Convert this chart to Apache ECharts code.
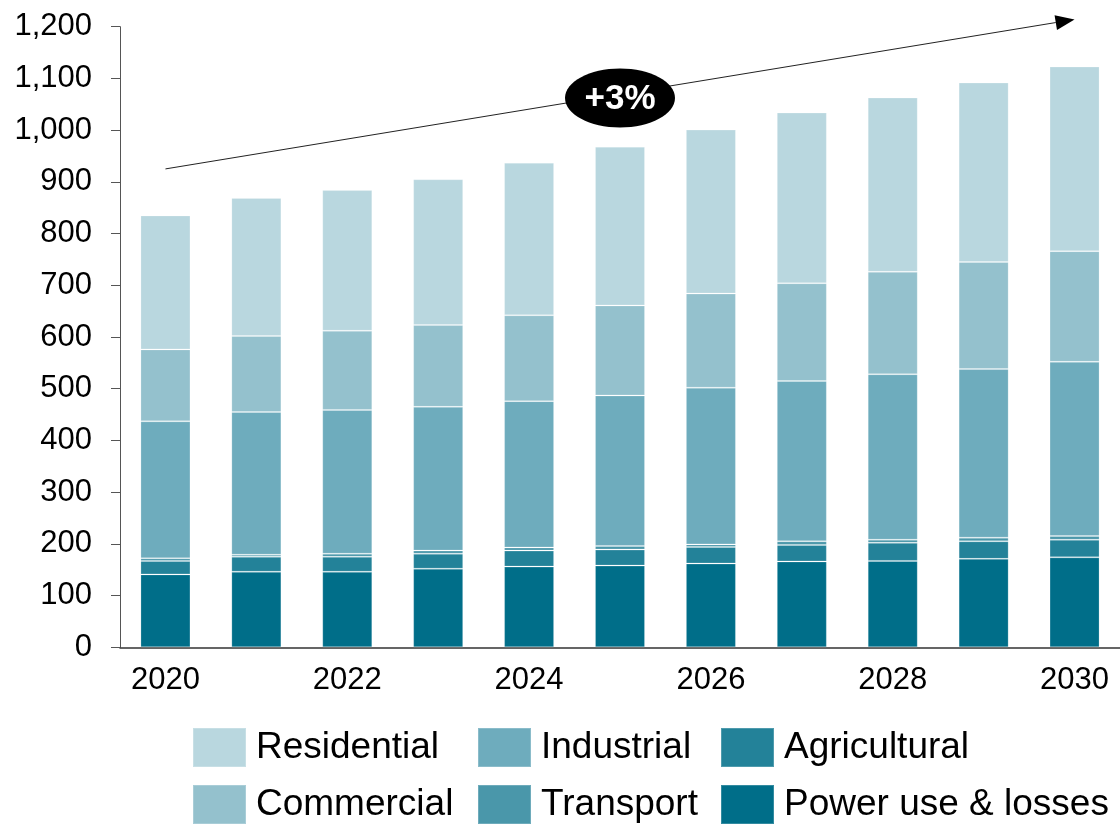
<!DOCTYPE html>
<html>
<head>
<meta charset="utf-8">
<title>Electricity demand by sector, 2020–2030</title>
<script src="https://cdn.jsdelivr.net/npm/echarts@6/dist/echarts.min.js"></script>
<style>
  html, body { margin: 0; padding: 0; background: #ffffff; }
  #chart { width: 1120px; height: 825px; }
</style>
</head>
<body>
<div id="chart"></div>
<script>
// Categories (years)
const years = ['2020', '2021', '2022', '2023', '2024', '2025', '2026', '2027', '2028', '2029', '2030'];

// Demand by sector, stacked bottom to top
const powerUseLosses = [141, 146, 146, 152, 156, 158, 162, 166, 167, 171, 174];
const agricultural   = [26, 29, 29, 29, 31, 31, 32, 32, 35, 34, 34];
const transport      = [5, 4, 6, 6, 6, 7, 5, 7, 6, 7, 7];
const industrial     = [265, 276, 278, 278, 283, 291, 303, 310, 320, 326, 337];
const commercial     = [139, 147, 153, 158, 166, 174, 182, 189, 198, 207, 214];
const residential    = [259, 267, 272, 282, 295, 307, 317, 330, 337, 347, 357];

// Value axis ticks
const yTicks = [0, 100, 200, 300, 400, 500, 600, 700, 800, 900, 1000, 1100, 1200];

// Growth trend annotation (category, value)
const trendStart = ['2020', 925];
const trendEnd = ['2030', 1214];
const trendLabelAt = ['2025', 1062];
const trendLabel = '+3%';

const FONT = '"Liberation Sans", Arial, Helvetica, sans-serif';

const sectors = [
  { name: 'Power use & losses', data: powerUseLosses, color: '#006e89' },
  { name: 'Agricultural',       data: agricultural,   color: '#238299' },
  { name: 'Transport',          data: transport,      color: '#4a97aa' },
  { name: 'Industrial',         data: industrial,     color: '#6eacbd' },
  { name: 'Commercial',         data: commercial,     color: '#94c1cd' },
  { name: 'Residential',        data: residential,    color: '#b9d7df' }
];

const chart = echarts.init(document.getElementById('chart'), null, { renderer: 'canvas' });

// One legend per column, two entries stacked in each
function legendColumn(left, names) {
  return {
    orient: 'vertical',
    left: left,
    top: 727,
    width: 300,
    height: 140,
    padding: 0,
    itemWidth: 53,
    itemHeight: 39,
    itemGap: 16,
    icon: 'rect',
    selectedMode: false,
    data: names,
    textStyle: {
      fontFamily: FONT,
      fontSize: 37,
      lineHeight: 39,
      color: '#000000',
      padding: [0, 0, 0, 5]
    }
  };
}

const option = {
  animation: false,
  backgroundColor: '#ffffff',
  grid: { left: 120, right: -4, top: 26.7, bottom: 177.7, containLabel: false },
  legend: [
    legendColumn(192, ['Residential', 'Commercial']),
    legendColumn(477, ['Industrial', 'Transport']),
    legendColumn(720, ['Agricultural', 'Power use & losses'])
  ],
  xAxis: {
    type: 'category',
    data: years,
    boundaryGap: true,
    axisLine: { show: true, lineStyle: { color: '#333333', width: 1.5 } },
    axisTick: { show: false },
    axisLabel: {
      interval: 1,
      margin: 18,
      fontFamily: FONT,
      fontSize: 31,
      color: '#000000'
    },
    splitLine: { show: false }
  },
  yAxis: {
    type: 'value',
    min: yTicks[0],
    max: yTicks[yTicks.length - 1],
    interval: yTicks[1] - yTicks[0],
    axisLine: { show: true, lineStyle: { color: '#555555', width: 1 } },
    axisTick: { show: true, inside: false, length: 9, lineStyle: { color: '#555555' } },
    axisLabel: {
      margin: 28,
      fontFamily: FONT,
      fontSize: 31,
      color: '#000000',
      formatter: v => v.toLocaleString('en-US')
    },
    splitLine: { show: false }
  },
  series: sectors.map(s => ({
    name: s.name,
    type: 'bar',
    stack: 'demand',
    barWidth: 50,
    data: s.data,
    itemStyle: {
      color: s.color,
      borderColor: 'rgba(255,255,255,0.2)',
      borderWidth: 1
    },
    emphasis: { disabled: true }
  }))
};

chart.setOption(option);

// Trend arrow and growth badge placed in data coordinates
function drawTrend() {
  const p0 = chart.convertToPixel({ gridIndex: 0 }, trendStart);
  const p1 = chart.convertToPixel({ gridIndex: 0 }, trendEnd);
  const pc = chart.convertToPixel({ gridIndex: 0 }, trendLabelAt);
  const dx = p1[0] - p0[0];
  const dy = p1[1] - p0[1];
  const len = Math.sqrt(dx * dx + dy * dy);
  const ux = dx / len, uy = dy / len;
  const headLen = 19, headHalf = 7.5;
  const bx = p1[0] - ux * headLen, by = p1[1] - uy * headLen;
  const nx = -uy, ny = ux;

  chart.setOption({
    graphic: [
      {
        type: 'line',
        silent: true,
        shape: { x1: p0[0], y1: p0[1], x2: bx, y2: by },
        style: { stroke: '#222222', lineWidth: 1 },
        z: 10
      },
      {
        type: 'polygon',
        silent: true,
        shape: {
          points: [
            [p1[0], p1[1]],
            [bx + nx * headHalf, by + ny * headHalf],
            [bx - nx * headHalf, by - ny * headHalf]
          ]
        },
        style: { fill: '#000000' },
        z: 10
      },
      {
        type: 'ellipse',
        silent: true,
        shape: { cx: pc[0], cy: pc[1], rx: 55, ry: 29.5 },
        style: { fill: '#000000' },
        z: 11
      },
      {
        type: 'text',
        silent: true,
        x: pc[0],
        y: pc[1] + 1,
        style: {
          text: trendLabel,
          fill: '#ffffff',
          font: 'bold 35px ' + FONT,
          align: 'center',
          verticalAlign: 'middle'
        },
        z: 12
      }
    ]
  });
}

drawTrend();
</script>
</body>
</html>
